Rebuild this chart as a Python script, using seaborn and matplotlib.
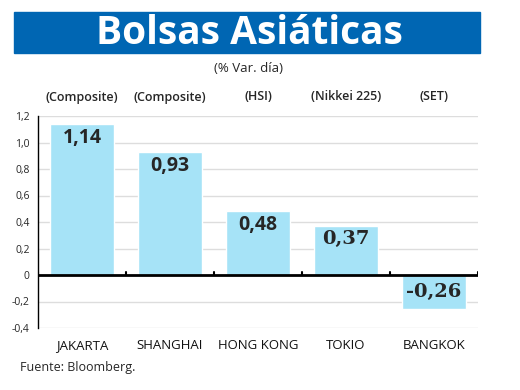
import matplotlib
matplotlib.use("Agg")
import matplotlib.pyplot as plt
import matplotlib.transforms as mtransforms
import seaborn as sns
import pandas as pd

ciudades = ["JAKARTA", "SHANGHAI", "HONG KONG", "TOKIO", "BANGKOK"]
indices = ["(Composite)", "(Composite)", "(HSI)", "(Nikkei 225)", "(SET)"]
variacion = [1.14, 0.93, 0.48, 0.37, -0.26]
etiquetas = ["1,14", "0,93", "0,48", "0,37", "-0,26"]
yticks = [-0.4, -0.2, 0, 0.2, 0.4, 0.6, 0.8, 1.0, 1.2]
yticklabels = ["-0,4", "-0,2", "0", "0,2", "0,4", "0,6", "0,8", "1,0", "1,2"]

df = pd.DataFrame({"ciudad": ciudades, "var": variacion})

sns.set_style("white")
plt.rcParams["font.family"] = ["Open Sans", "DejaVu Sans"]

fig = plt.figure(figsize=(5.2, 3.9), dpi=100)
ax = fig.add_axes([38 / 520, 1 - 328 / 390, 440 / 520, 212 / 390])

sns.barplot(data=df, x="ciudad", y="var", color="#a6e3f7", width=0.72,
            saturation=1, ax=ax, zorder=2)

ax.set_ylim(-0.4, 1.2)
ax.set_xlim(-0.5, 4.5)
ax.set_yticks(yticks)
ax.set_yticklabels(yticklabels, fontsize=7.5)
ax.grid(axis="y", color="#dddddd", linewidth=1, zorder=0)
ax.set_xlabel("")
ax.set_ylabel("")
ax.tick_params(axis="x", length=0, labelsize=9.5, pad=8, labelcolor="#111111")
ax.tick_params(axis="y", length=0, pad=6)

for s in ["top", "right", "bottom"]:
    ax.spines[s].set_visible(False)
ax.spines["left"].set_color("black")
ax.spines["left"].set_linewidth(1)

# linea del cero con marcas entre categorias
ax.axhline(0, color="black", linewidth=2, zorder=3)
for xb in [-0.5, 0.5, 1.5, 2.5, 3.5, 4.5]:
    ax.plot([xb, xb], [0, 0.025], color="black", linewidth=1.5, zorder=3)

# valores dentro de las barras
for i, (v, t) in enumerate(zip(variacion, etiquetas)):
    fam = ["DejaVu Serif"] if i >= 3 else ["Open Sans", "DejaVu Sans"]
    ax.text(i, v - 0.03 if v > 0 else -0.06, t, ha="center", va="top",
            fontsize=14, fontweight="bold", family=fam, zorder=4)

# indices arriba
trans = mtransforms.blended_transform_factory(ax.transData, fig.transFigure)
for i, idx in enumerate(indices):
    ax.text(i, 1 - 97 / 390, idx, ha="center", va="center", fontsize=9,
            fontweight="semibold", transform=trans, family=["Open Sans"])

# banda del titulo
fig.patches.append(plt.Rectangle((14 / 520, 1 - 53 / 390), 466 / 520, 41 / 390,
                                 transform=fig.transFigure, color="#0066b3"))
fig.text(249 / 520, 1 - 33 / 390, "Bolsas Asiáticas", color="white",
         fontsize=28, fontweight="bold", ha="center", va="center")
fig.text(249 / 520, 1 - 68 / 390, "(% Var. día)", fontsize=9.5,
         ha="center", va="center")
fig.text(20 / 520, 1 - 368 / 390, "Fuente: Bloomberg.", fontsize=9,
         ha="left", va="center")

fig.savefig("out.png", dpi=100)
